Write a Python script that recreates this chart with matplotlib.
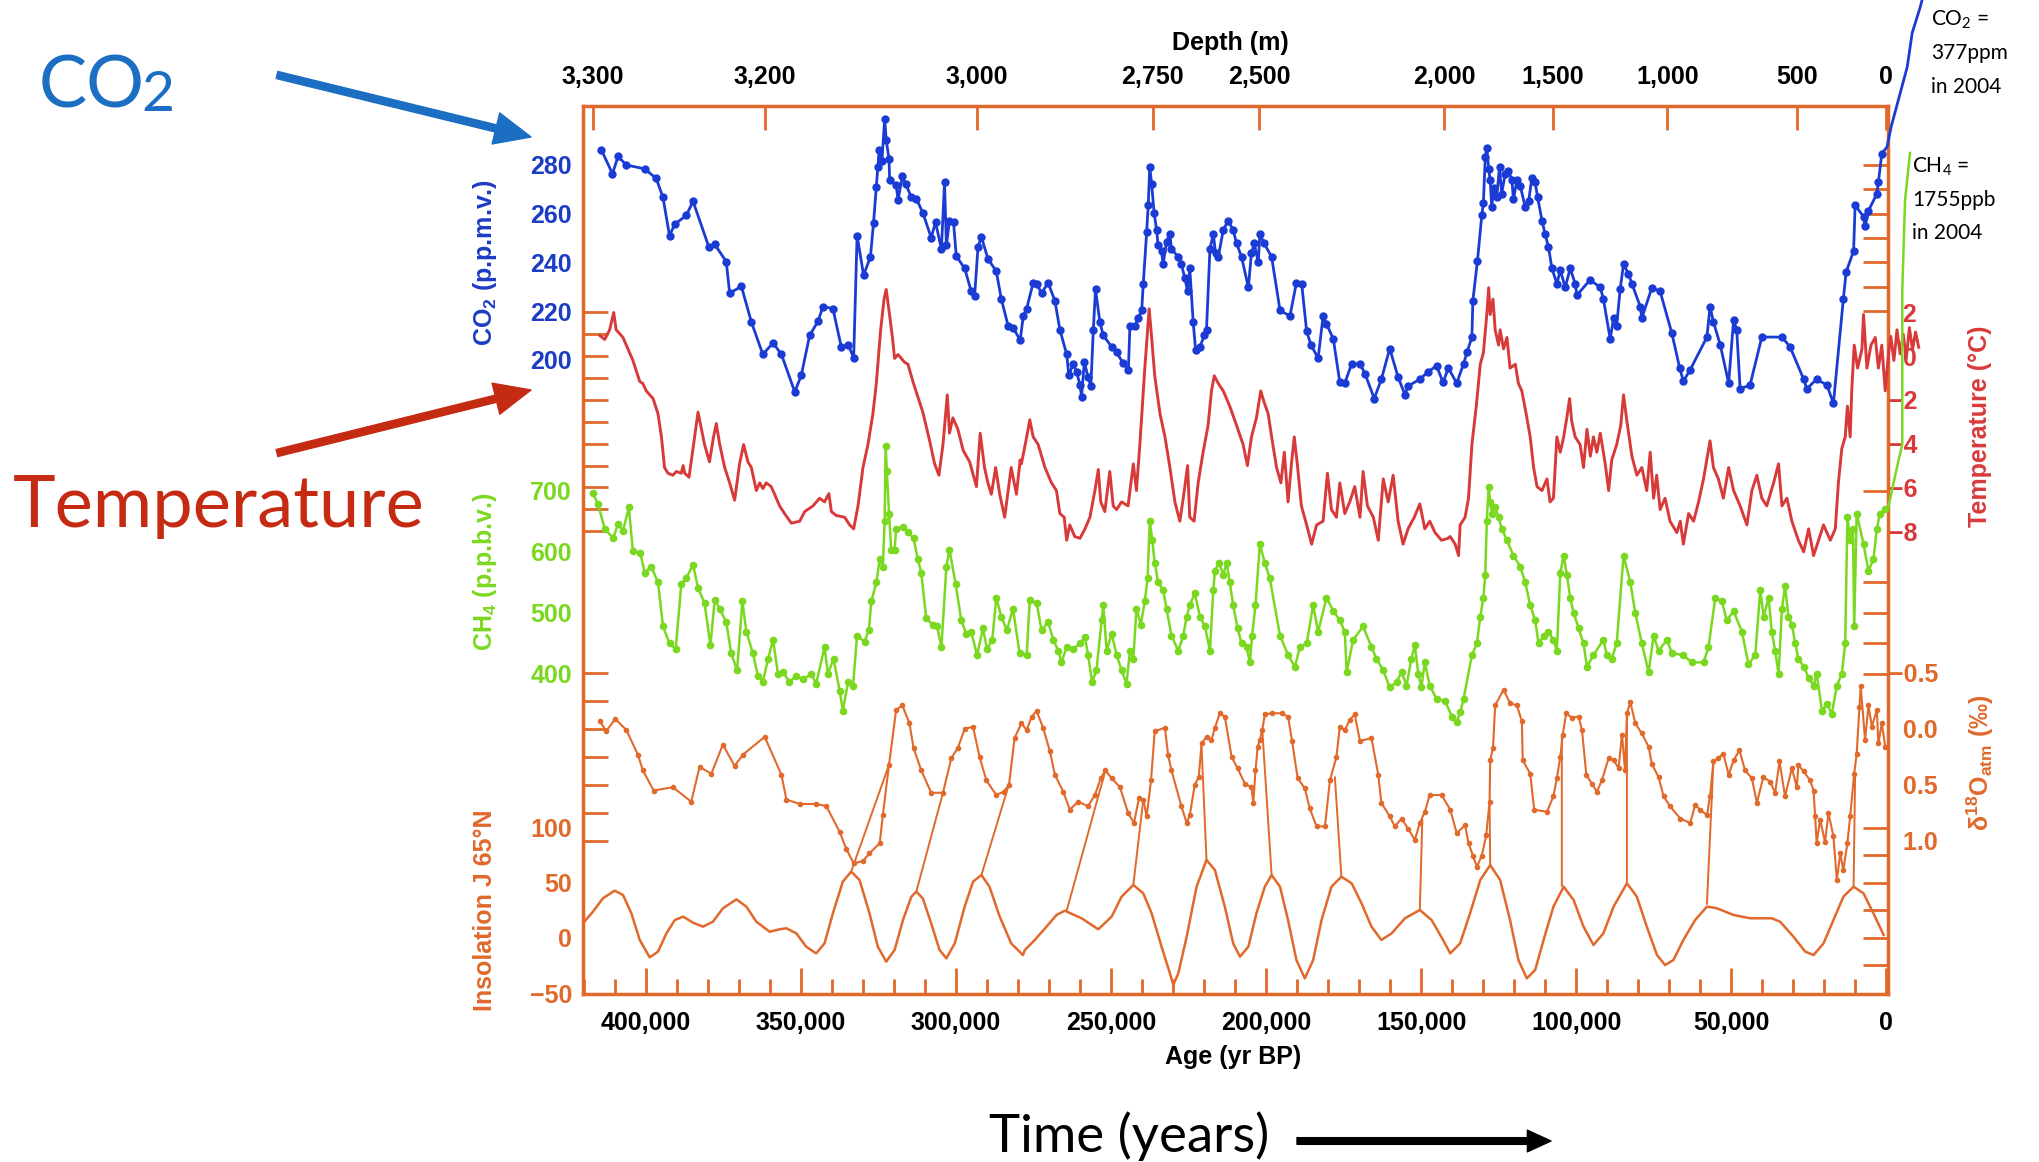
import numpy as np
import matplotlib
matplotlib.use("Agg")
import matplotlib.pyplot as plt
from matplotlib.patches import ConnectionPatch, FancyArrowPatch
from matplotlib.ticker import FuncFormatter

# Vostok ice core records, ages in kyr BP

co2_age = [414.4, 410.8, 409.0, 406.3, 400.4, 396.7, 394.5, 392.4, 390.7, 387.0,
           384.8, 379.7, 377.8, 374.1, 373.0, 369.2, 366.0, 362.3, 359.0, 356.3,
           352.0, 349.9, 347.2, 344.5, 342.9, 339.7, 337.0, 334.8, 333.0, 331.9,
           329.8, 327.6, 326.6, 325.7, 325.2, 324.8, 323.9, 323.0, 322.5, 321.6,
           321.4, 319.3, 318.7, 317.3, 316.2, 314.4, 312.8, 310.7, 308.0, 306.6,
           304.7, 303.7, 303.1, 302.1, 300.8, 299.9, 297.2, 295.1, 294.0, 292.9,
           291.8, 289.7, 287.0, 285.4, 283.2, 281.6, 279.3,
           278.3, 277.2, 275.1, 274.0, 272.4, 270.3, 268.1, 266.5, 264.3, 263.6,
           262.2, 261.1, 260.0, 259.5, 258.6, 257.4, 256.5, 255.7, 255.0, 253.6,
           252.5, 249.8, 248.2, 246.1, 244.4, 243.9, 242.3, 241.2, 240.1, 239.6,
           238.5, 238.0, 237.5, 236.9, 236.1, 235.3, 234.8, 233.7, 233.2, 232.1,
           231.0, 230.5, 228.3, 227.3, 226.2, 225.3, 224.6, 223.5, 222.7, 221.3,
           219.9, 219.2, 218.1, 217.0, 216.3, 215.4, 213.8, 212.2, 210.6, 209.5,
           207.9, 205.7, 204.7, 203.8, 202.5, 202.0, 200.6, 198.2, 195.5, 192.3,
           190.2, 188.5, 186.9, 185.5, 183.2, 181.6, 180.5, 178.3, 176.2, 174.6,
           172.4, 169.7, 168.1, 165.1, 162.8, 160.1, 157.4, 155.2, 154.2, 150.4,
           147.7, 145.0, 142.9, 141.2,
           138.5, 136.3, 135.2, 133.6, 133.3, 131.8, 130.4, 129.9, 129.3, 128.8,
           128.2, 127.7, 127.2, 126.6, 125.6, 124.7, 124.0, 122.9, 121.8, 120.7,
           120.2, 119.1, 118.0, 116.4, 115.3, 114.3, 113.2, 112.4, 111.0, 110.0,
           108.9, 107.8, 106.2, 105.1, 103.5, 101.9, 100.3, 99.7, 95.5, 92.2,
           91.2, 89.0, 87.9, 86.9, 85.8, 84.7, 83.1, 82.0, 79.3, 78.8,
           75.6, 72.9, 69.1, 66.6, 65.4, 63.2, 57.8, 56.8, 55.7, 53.5,
           50.8, 49.2, 48.2, 47.1, 43.9, 40.1, 33.6, 31.0, 26.6, 25.6,
           22.4, 19.1, 17.0, 13.8, 12.9, 10.5, 10.0, 7.3, 6.8, 5.7,
           3.0, 2.5, 1.4]
co2_ppm = [286.3, 276.4, 283.5, 280.0, 278.4, 274.5, 266.7, 251.0, 255.7, 259.3,
           265.1, 246.3, 247.4, 240.4, 227.4, 230.2, 215.6, 202.3, 207.0, 202.3,
           186.9, 193.7, 210.1, 215.9, 221.9, 221.1, 205.4, 206.2, 201.0, 251.0,
           234.8, 242.3, 256.1, 270.9, 279.2, 286.0, 281.6, 298.9, 290.2, 282.4,
           273.7, 271.9, 265.6, 275.3, 272.2, 266.7, 266.2, 260.4, 250.2, 256.5,
           245.5, 272.9, 247.0, 257.2, 256.5, 242.6, 237.6, 228.2, 226.3, 246.3,
           250.5, 241.5, 236.4, 225.1, 214.1, 213.3, 208.1,
           218.0, 221.1, 231.7, 231.3, 227.4, 231.7, 224.3, 212.5, 202.3, 193.7,
           198.4, 195.2, 189.7, 185.0, 199.2, 192.9, 189.3, 212.5, 229.0, 215.6,
           210.1, 205.4, 203.1, 198.7, 196.0, 214.1, 214.1, 217.2, 220.4, 231.3,
           252.5, 263.5, 279.2, 272.2, 260.4, 253.3, 247.0, 244.7, 239.2, 248.6,
           251.7, 245.5, 242.3, 239.2, 233.7, 228.2, 237.6, 215.6, 203.9, 205.4,
           210.1, 212.5, 245.5, 251.7, 243.9, 242.3, 253.3, 257.2, 253.3, 247.8,
           242.3, 229.8, 243.9, 247.8, 240.0, 251.7, 247.8, 242.3, 220.4, 218.0,
           231.7, 231.3, 211.7, 206.2, 200.7, 218.0, 214.9, 208.6, 190.8, 190.5,
           198.4, 198.4, 194.4, 184.2, 192.1, 204.7, 192.9, 185.8, 189.3, 192.1,
           195.2, 197.6, 190.8, 196.7,
           190.5, 198.4, 203.1, 209.4, 224.3, 240.8, 259.6, 264.3, 283.1, 287.1,
           278.4, 273.7, 262.7, 270.6, 266.7, 279.2, 268.2, 276.1, 277.7, 273.7,
           265.9, 273.7, 271.4, 262.7, 265.1, 274.5, 272.9, 266.7, 257.2, 251.7,
           246.3, 237.6, 231.3, 236.8, 229.8, 237.6, 231.3, 226.6, 232.9, 229.8,
           225.1, 208.6, 217.2, 214.1, 229.0, 239.2, 235.3, 231.3, 221.9, 217.2,
           229.5, 228.2, 210.9, 196.8, 191.3, 196.0, 209.4, 221.9, 215.6, 206.2,
           190.5, 216.4, 212.5, 188.2, 189.7, 209.4, 209.4, 205.4, 192.1, 188.2,
           192.1, 189.7, 182.2, 225.1, 236.1, 244.7, 263.5, 258.8, 254.9, 261.2,
           268.2, 272.9, 284.7]
# line running up to the 2004 value, outside the frame
co2_now_age = [1.4, -0.3, -1.6, -6.8, -8.4, -11.0, -11.6]
co2_now_ppm = [284.7, 287.4, 295.6, 320.2, 334.2, 344.8, 347.7]

temp_age = [414.9, 413.3, 411.7, 410.4, 409.6, 407.4, 404.2, 402.0, 401.0, 399.9,
            397.7, 396.1, 395.0, 394.0, 392.9, 391.3, 390.2, 388.6, 388.0, 387.5,
            386.1, 384.3, 383.2, 382.1, 381.1, 379.5, 378.2, 377.3, 376.2, 374.6,
            373.0, 371.4, 369.8, 368.5, 367.1, 366.0, 364.4, 363.3, 362.3, 361.2,
            359.6, 358.5, 356.9, 355.3, 353.1, 350.4, 348.8, 346.1, 344.0, 342.4,
            341.0, 340.2, 338.6, 335.9, 334.3, 333.0, 331.6, 330.0, 328.4, 326.8,
            325.7, 324.3, 323.2, 322.5, 321.6, 320.5, 319.8, 318.7, 316.6, 315.5,
            313.9, 312.3, 310.7, 308.5, 306.9, 305.5, 304.2, 302.8, 302.1, 301.0,
            299.4, 297.7, 295.6, 293.4, 292.2, 290.8, 289.7, 288.6, 287.2, 285.9,
            284.3, 282.2, 280.5, 279.3,
            278.9, 277.2, 276.2, 275.1, 273.5, 271.3, 269.2, 267.6, 266.5, 265.1,
            264.3, 263.3, 261.7, 260.0, 258.4, 256.8, 255.2, 254.1, 253.3, 252.0,
            250.4, 249.3, 248.2, 246.6, 244.5, 242.8, 241.8, 240.7, 239.1, 237.7,
            236.9, 235.9, 234.2, 232.6, 231.0, 229.4, 227.8, 226.7, 225.3, 224.6,
            223.2, 221.9, 220.3, 218.7, 217.6, 216.7, 215.4, 213.8, 211.7, 209.5,
            207.4, 206.0, 204.7, 203.1, 201.7, 200.6, 199.3, 198.2, 196.6, 195.2,
            194.1, 192.9, 191.8, 190.9, 189.8, 188.6, 186.9, 185.3, 183.7, 181.6,
            180.2, 178.9, 177.3, 176.2, 174.6, 173.0, 171.4, 169.7, 168.7, 167.3,
            165.4, 163.8, 162.2, 160.6, 159.0, 157.4, 155.8, 154.2, 152.2, 150.4,
            148.8, 147.2, 145.5, 143.4, 141.3,
            140.6, 139.0, 137.9, 137.4, 135.8, 134.7, 133.6, 132.2, 130.9, 129.9,
            128.8, 128.2, 127.7, 126.8, 126.1, 125.0, 124.5, 123.4, 122.3, 121.3,
            119.6, 118.6, 117.5, 116.1, 114.8, 113.7, 112.6, 111.0, 109.4, 108.4,
            107.3, 106.2, 105.1, 104.0, 103.0, 102.1, 101.4, 100.3, 98.7, 97.6,
            96.5, 95.4, 94.4, 93.3, 92.2, 90.6, 89.5, 88.5, 86.9, 85.6,
            84.7, 83.6, 82.0, 80.4, 78.8, 77.2, 76.1, 75.0, 74.0, 72.9,
            71.3, 69.7, 67.5, 66.4, 65.4, 63.7, 62.1, 60.5, 58.9, 56.8,
            55.7, 54.1, 52.5, 50.8, 49.2, 47.1, 44.9, 43.3, 41.7, 40.1,
            38.5, 36.3, 34.7, 33.6, 32.0, 30.4, 28.3, 26.6, 25.0, 23.4,
            21.8, 20.2, 18.0, 16.4, 15.4, 14.3, 13.2, 12.5, 11.6, 11.1,
            10.3, 9.2, 7.8, 7.3, 6.2, 4.9, 3.5, 2.5, 1.4, 0.3,
            -0.8, -1.5, -2.5, -3.5, -4.5, -5.5, -6.5, -7.5, -8.5, -9.5,
            -10.5]
temp_c = [0.94, 0.76, 1.20, 1.99, 1.20, 0.85, -0.20, -1.16, -1.25, -1.59,
          -1.94, -2.64, -3.69, -5.09, -5.35, -5.44, -5.27, -5.35, -5.00, -5.35,
          -5.53, -3.69, -2.56, -3.34, -4.04, -4.83, -3.69, -3.08, -4.04, -5.09,
          -5.79, -6.58, -4.92, -4.04, -4.83, -5.09, -6.14, -5.79, -6.05, -5.79,
          -5.96, -6.31, -6.84, -7.19, -7.63, -7.54, -7.10, -6.84, -6.49, -6.66,
          -6.28, -7.10, -7.28, -7.36, -7.71, -7.89, -6.84, -5.09, -4.04, -2.64,
          -1.25, 1.20, 2.60, 3.04, 2.08, 0.85, -0.11, 0.07, -0.28, -0.37,
          -1.16, -1.86, -2.56, -3.87, -4.92, -5.44, -4.04, -1.77, -3.52, -2.82,
          -3.34, -4.30, -4.83, -5.96, -3.52, -5.09, -5.79, -6.31, -5.09, -6.31,
          -7.36, -5.09, -6.31, -4.74,
          -4.92, -3.69, -2.91, -3.69, -4.04, -5.09, -5.79, -6.14, -7.19, -7.36,
          -8.41, -7.71, -8.24, -8.32, -7.89, -7.36, -6.14, -5.18, -6.66, -7.10,
          -5.27, -6.84, -7.01, -6.66, -6.84, -4.92, -6.14, -4.04, -0.55, 2.16,
          0.85, -0.90, -2.64, -3.69, -5.09, -6.66, -7.54, -6.49, -5.00, -7.36,
          -7.54, -5.79, -4.39, -3.17, -1.59, -0.90, -1.25, -1.59, -2.29, -3.17,
          -4.04, -5.00, -3.69, -2.82, -1.59, -2.12, -2.64, -3.69, -5.09, -5.79,
          -4.39, -6.66, -4.92, -3.69, -5.09, -6.84, -7.71, -8.59, -7.71, -7.54,
          -5.35, -7.01, -7.36, -5.79, -7.19, -6.66, -5.96, -7.36, -5.27, -6.84,
          -7.36, -8.41, -5.61, -6.66, -5.44, -7.54, -8.59, -7.89, -7.36, -6.75,
          -7.89, -7.54, -8.06, -8.41, -8.32,
          -8.24, -8.59, -9.11, -7.71, -7.36, -6.49, -4.04, -2.29, -0.37, 0.15,
          1.90, 3.12, 1.90, 2.60, 1.20, 0.50, 1.20, 0.33, 0.85, -0.55,
          -0.37, -1.25, -1.59, -2.64, -3.69, -5.09, -5.96, -6.14, -5.61, -6.66,
          -6.49, -3.69, -4.39, -3.69, -2.82, -1.94, -2.99, -3.69, -4.04, -5.09,
          -3.34, -4.57, -3.69, -4.39, -3.52, -4.92, -6.14, -4.74, -4.04, -3.17,
          -1.77, -2.99, -4.57, -5.44, -5.09, -6.14, -4.39, -6.49, -5.44, -7.01,
          -6.49, -7.54, -8.06, -7.54, -8.59, -7.19, -7.54, -6.66, -5.61, -3.87,
          -5.09, -5.61, -6.49, -5.09, -6.14, -6.84, -7.71, -6.14, -5.44, -6.49,
          -6.84, -5.79, -4.92, -6.84, -6.49, -7.54, -8.41, -8.94, -7.89, -9.11,
          -8.41, -7.71, -8.41, -7.89, -5.79, -4.22, -3.69, -2.29, -3.69, -1.59,
          0.50, -0.55, 0.33, 1.90, -0.55, 0.50, 0.85, -0.55, 0.50, -1.59,
          0.15, 0.9, -0.2, 1.2, 0.1, 1.0, -0.1, 1.3, 0.3, 1.1,
          0.4]

ch4_age = [417.1, 415.5, 413.3, 410.6, 409.0, 407.4, 405.5, 404.2, 401.8, 400.4,
           398.3, 396.1, 394.5, 392.4, 390.4, 388.6, 387.0, 384.8, 383.2, 381.1,
           379.2, 377.8, 376.2, 374.1, 372.5, 370.6, 368.9, 367.6, 365.5, 363.9,
           362.3, 360.6, 359.0, 357.4, 355.8, 353.7, 351.5, 349.3, 346.7, 345.1,
           342.4, 341.3, 339.5, 337.5, 336.5, 334.8, 333.2, 331.9, 329.5, 328.1,
           327.3, 325.7, 324.6, 323.6, 323.0, 322.7, 322.3, 321.6, 320.9, 319.8,
           319.3, 317.1, 315.5, 313.7, 312.3, 311.2, 309.6, 307.4, 306.1, 304.7,
           303.1, 302.1, 300.1, 298.3, 296.7, 295.1, 293.2, 291.3, 290.0, 288.3,
           287.0, 285.4, 283.6, 281.6, 279.5,
           277.2, 276.2, 274.0, 272.4, 270.3, 268.6, 267.0, 266.0, 264.3, 262.2,
           260.0, 258.4, 257.4, 256.1, 254.7, 253.0, 252.5, 251.4, 249.8, 248.2,
           246.6, 245.0, 243.9, 242.8, 241.8, 240.4, 239.1, 238.2, 237.5, 236.7,
           235.9, 234.8, 233.2, 232.1, 230.5, 228.3, 226.7, 225.6, 224.6, 223.0,
           221.3, 219.7, 218.1, 217.0, 216.5, 215.2, 213.8, 212.7, 211.7, 210.6,
           209.2, 207.9, 206.3, 205.2, 204.5, 203.4, 202.0, 200.4, 198.8, 195.5,
           192.9, 190.7, 189.1, 186.9, 184.8, 183.2, 180.5, 178.3, 176.2, 174.6,
           174.0, 171.9, 168.7, 166.0, 164.4, 162.2, 160.1, 157.9, 156.3, 154.7,
           153.1, 152.0, 150.9, 149.9, 148.8, 147.2, 145.0, 142.3, 140.0, 138.5,
           137.3,
           136.3, 133.6, 132.0, 130.9, 129.9, 129.3, 128.8, 128.2, 127.7, 127.2,
           126.1, 125.0, 124.0, 122.3, 120.2, 118.0, 116.4, 114.8, 113.2, 112.1,
           110.5, 108.9, 107.3, 106.2, 105.1, 104.0, 103.0, 101.9, 100.8, 99.2,
           97.6, 96.5, 94.4, 91.2, 90.1, 88.5, 86.9, 84.7, 82.5, 80.9,
           78.8, 76.6, 75.0, 73.4, 70.7, 69.1, 65.4, 62.7, 58.9, 57.3,
           55.1, 53.0, 51.4, 49.2, 46.5, 44.4, 42.2, 40.6, 39.5, 37.9,
           36.9, 35.8, 34.7, 33.6, 32.6, 31.5, 30.4, 29.3, 28.3, 26.6,
           25.0, 23.4, 22.4, 20.7, 19.1, 17.5, 15.9, 14.3, 13.2, 12.5,
           11.6, 10.7, 10.3, 9.5, 7.3, 5.7, 4.1, 3.0, 2.0, 0.4]
ch4_ppb = [696, 679, 638, 623, 645, 635, 673, 601, 598, 566,
           576, 550, 478, 450, 441, 547, 557, 579, 541, 516,
           447, 522, 507, 485, 434, 406, 519, 469, 434, 397,
           387, 425, 456, 400, 403, 387, 397, 391, 400, 384,
           444, 400, 425, 372, 340, 387, 381, 463, 453, 472,
           519, 550, 588, 576, 651, 773, 732, 663, 604, 604,
           638, 641, 632, 623, 588, 566, 491, 481, 478, 444,
           576, 604, 547, 488, 466, 469, 431, 475, 441, 456,
           525, 494, 472, 507, 434,
           431, 522, 516, 472, 485, 456, 438, 419, 444, 441,
           450, 460, 431, 387, 406, 488, 513, 438, 466, 431,
           406, 384, 438, 425, 507, 481, 519, 557, 651, 620,
           582, 550, 538, 507, 463, 438, 463, 494, 513, 532,
           494, 478, 438, 538, 569, 582, 563, 582, 550, 513,
           475, 450, 444, 419, 463, 513, 613, 582, 557, 463,
           431, 412, 444, 450, 513, 469, 525, 503, 488, 469,
           403, 456, 478, 444, 425, 406, 378, 387, 403, 381,
           425, 447, 400, 378, 419, 381, 359, 356, 330, 322,
           338,
           359, 431, 450, 494, 525, 563, 651, 707, 682, 663,
           673, 657, 638, 619, 594, 576, 550, 513, 488, 450,
           463, 469, 456, 438, 566, 594, 563, 525, 500, 475,
           450, 412, 431, 456, 431, 425, 450, 594, 550, 500,
           450, 403, 463, 438, 456, 434, 431, 419, 419, 444,
           525, 519, 488, 503, 469, 416, 431, 538, 494, 525,
           469, 438, 400, 507, 544, 494, 481, 450, 425, 412,
           394, 381, 400, 340, 350, 335, 381, 400, 450, 657,
           619, 638, 478, 663, 613, 569, 588, 638, 663, 670]
# line running up to the 2004 value, outside the frame
ch4_now_age = [0.4, -0.6, -1.9, -3.9, -5.2, -5.2, -6.1, -7.7]
ch4_now_ppb = [670, 670, 702, 748, 776, 1028, 1177, 1254]

d18o_age = [414.9, 412.8, 409.9, 406.3, 402.6, 401.0, 397.5, 391.3, 385.4, 382.7,
            378.9, 375.2, 371.4, 368.7, 361.7, 356.3, 354.7, 350.4, 345.1, 341.8,
            337.5, 335.4, 333.0, 330.0, 327.9, 324.6, 323.6, 321.6, 319.3, 317.3,
            315.0, 313.7, 311.2, 308.0, 304.2, 301.5, 299.4, 297.2, 294.5, 292.4,
            290.2, 287.0, 284.6, 282.9, 281.1, 278.9,
            277.2, 275.6, 274.0, 271.9, 269.7, 268.1, 265.4, 263.3, 260.6, 257.4,
            255.2, 253.3, 251.8, 249.8, 247.1, 244.5, 242.6, 241.0, 239.6, 238.5,
            237.1, 235.9, 232.6, 231.6, 230.5, 227.3, 225.6, 224.6, 223.0, 221.7,
            220.8, 219.2, 217.6, 216.5, 214.9, 213.3, 211.1, 209.2, 206.8, 204.7,
            204.1, 203.4, 202.7, 202.0, 201.2, 200.4, 198.2, 195.0, 192.9, 191.6,
            189.8, 187.5, 185.9, 183.7, 181.0, 179.4, 177.3, 176.2, 174.6, 173.0,
            171.4, 169.7, 166.0, 163.8, 162.8, 160.1, 158.5, 156.3, 154.2, 152.0,
            150.4, 148.8, 147.2, 143.4,
            140.6, 138.5, 135.8, 134.7, 133.3, 132.0, 130.4, 129.0, 127.9, 127.7,
            126.8, 126.1, 123.4, 121.3, 119.1, 117.5, 117.2, 114.8, 113.5, 109.4,
            107.3, 106.2, 105.1, 104.3, 103.2, 101.4, 99.2, 98.1, 96.7, 94.9,
            93.3, 91.7, 89.5, 87.9, 86.3, 85.2, 84.2, 83.6, 82.5, 80.9,
            78.8, 76.6, 75.6, 73.4, 71.8, 69.7, 66.4, 63.2, 61.6, 60.0,
            57.8, 56.8, 55.7, 54.1, 52.5, 50.8, 49.2, 47.3, 45.5, 43.3,
            41.7, 39.6, 37.4, 35.8, 34.4, 32.6, 30.4, 28.8, 28.3, 26.6,
            24.5, 23.4, 22.9, 22.4, 21.3, 19.7, 18.6, 17.0, 15.9, 14.8,
            13.8, 12.5, 11.6, 10.3, 9.5, 8.6, 8.2, 6.8, 5.7, 4.6,
            3.0, 2.5, 1.4, 0.3]
d18o = [-0.07, 0.02, -0.09, 0.01, 0.23, 0.37, 0.55, 0.52, 0.65, 0.34,
        0.40, 0.14, 0.33, 0.23, 0.07, 0.41, 0.63, 0.67, 0.67, 0.69,
        0.92, 1.07, 1.20, 1.18, 1.11, 1.02, 0.77, 0.32, -0.17, -0.21,
        -0.05, 0.17, 0.37, 0.57, 0.57, 0.26, 0.17, 0.00, -0.02, 0.25,
        0.46, 0.59, 0.56, 0.50, 0.08, -0.05,
        0.01, -0.11, -0.16, -0.01, 0.20, 0.41, 0.56, 0.72, 0.65, 0.69,
        0.59, 0.44, 0.37, 0.44, 0.52, 0.75, 0.84, 0.62, 0.63, 0.78,
        0.46, 0.02, -0.01, 0.23, 0.37, 0.69, 0.84, 0.77, 0.50, 0.43,
        0.13, 0.07, 0.10, -0.01, -0.14, -0.11, 0.25, 0.35, 0.49, 0.52,
        0.66, 0.37, 0.16, 0.10, 0.01, -0.13, -0.14, -0.14, -0.11, 0.11,
        0.44, 0.53, 0.71, 0.87, 0.87, 0.46, 0.25, -0.02, 0.01, -0.08,
        -0.13, 0.11, 0.08, 0.41, 0.66, 0.78, 0.87, 0.80, 0.89, 0.99,
        0.84, 0.74, 0.59, 0.59,
        0.72, 0.93, 0.86, 1.02, 1.13, 1.23, 1.13, 0.95, 0.65, 0.28,
        0.17, -0.21, -0.35, -0.23, -0.21, -0.07, 0.28, 0.40, 0.72, 0.74,
        0.60, 0.44, 0.25, 0.05, -0.14, -0.10, -0.11, 0.01, 0.41, 0.49,
        0.56, 0.46, 0.26, 0.28, 0.35, 0.05, 0.37, -0.14, -0.24, -0.05,
        0.04, 0.16, 0.31, 0.43, 0.60, 0.69, 0.80, 0.84, 0.68, 0.72,
        0.77, 0.60, 0.29, 0.26, 0.22, 0.41, 0.28, 0.19, 0.37, 0.44,
        0.66, 0.43, 0.47, 0.57, 0.29, 0.60, 0.35, 0.52, 0.32, 0.38,
        0.46, 0.55, 0.78, 1.02, 0.81, 1.01, 0.75, 0.96, 1.35, 1.11,
        1.26, 1.02, 0.78, 0.40, 0.22, -0.20, -0.38, 0.10, -0.21, -0.02,
        -0.17, 0.13, -0.05, 0.16]

insol_age = [420.3, 417.1, 413.9, 410.1, 407.4, 404.7, 402.0, 398.8, 396.1, 393.4,
             390.7, 388.0, 384.8, 381.6, 378.4, 375.2, 370.8, 367.6, 364.4, 360.1,
             356.9, 354.7, 351.5, 348.3, 345.1, 342.4, 339.7, 336.5, 333.8, 331.1,
             327.9, 325.2, 322.5, 319.8, 317.1, 314.4, 312.8, 310.7, 308.0, 305.3,
             303.1, 300.4, 297.2, 294.5, 291.8, 289.2, 285.9, 282.2, 278.4,
             277.8, 274.6, 270.8, 267.6, 264.9, 259.5, 254.1, 249.8, 246.6, 242.8,
             239.6, 236.9, 233.7, 231.0, 229.9, 228.3, 225.6, 222.4, 219.2, 216.5,
             213.3, 210.6, 208.4, 205.7, 203.1, 200.4, 198.2, 195.5, 192.9, 190.2,
             187.5, 184.8, 182.1, 178.9, 175.7, 172.4, 169.2, 166.0, 162.8, 159.5,
             155.2, 150.4, 146.6, 142.9,
             140.6, 137.4, 134.2, 130.9, 127.7, 124.5, 121.3, 118.6, 115.9, 113.2,
             110.5, 107.3, 104.0, 100.8, 97.6, 94.4, 91.2, 87.9, 83.6, 80.4,
             77.2, 73.9, 71.3, 68.6, 65.4, 61.6, 57.8, 54.6, 49.2, 43.9,
             36.9, 34.2, 29.9, 26.1, 23.4, 20.2, 17.0, 13.8, 10.5, 7.3,
             4.1, 0.8]
insol = [13.3, 23.9, 36.0, 43.0, 39.1, 22.4, -1.8, -17.6, -12.4, 4.2,
         16.3, 19.4, 13.9, 10.3, 14.8, 26.9, 35.1, 28.5, 14.8, 5.7,
         7.9, 8.8, 4.2, -7.9, -14.0, -4.9, 22.4, 51.2, 60.3, 52.7,
         22.4, -7.9, -21.5, -10.9, 16.3, 37.5, 42.1, 36.0, 13.3, -10.9,
         -18.5, -4.9, 28.5, 51.2, 57.2, 46.6, 19.4, -4.9, -15.5,
         -11.0, -1.8, 10.3, 20.9, 24.8, 17.9, 7.9, 19.4, 37.5, 48.2,
         40.6, 22.4, -7.9, -32.1, -42.7, -32.1, 1.2, 46.6, 70.9, 61.8,
         28.5, -4.9, -17.0, -7.9, 22.4, 46.6, 57.2, 46.6, 16.3, -20.0,
         -36.7, -20.0, 16.3, 46.6, 55.7, 49.7, 31.5, 10.3, -1.8, 4.2,
         17.9, 25.4, 16.3, -1.8,
         -14.0, -4.9, 22.4, 52.7, 66.3, 52.7, 16.3, -20.0, -36.7, -29.1,
         -1.8, 28.5, 46.6, 34.5, 10.3, -6.4, 4.2, 28.5, 49.7, 37.5,
         10.3, -15.5, -24.6, -20.0, -1.8, 16.3, 28.5, 27.0, 20.9, 17.9,
         17.9, 14.8, 1.2, -12.4, -15.5, -4.9, 16.3, 37.5, 46.6, 40.6,
         22.4, 2.7]

# tie lines: insolation maximum -> matching d18O point
tie_insol_age = [333.8, 312.8, 291.8, 264.3, 242.8, 219.2, 198.2, 175.7, 150.4, 127.7, 104.6, 83.6, 57.8, 10.5]
tie_insol = [60.3, 42.1, 57.2, 24.8, 48.2, 70.9, 57.2, 55.7, 25.4, 66.3, 47.2, 49.7, 30.9, 46.6]
tie_d18o_age = [321.6, 304.2, 283.2, 251.8, 239.6, 220.8, 201.2, 177.8, 149.6, 127.9, 104.6, 83.6, 55.7, 10.0]
tie_d18o = [0.32, 0.57, 0.52, 0.37, 0.63, 0.16, 0.01, 0.43, 0.81, 0.65, 0.05, -0.14, 0.29, 0.40]

# top axis: ice depth (m) and the age where each depth tick sits
depth_labels = ['3,300', '3,200', '3,000', '2,750', '2,500', '2,000', '1,500', '1,000', '500', '0']
depth_age = [417.1, 361.6, 293.2, 236.5, 202.3, 142.6, 107.4, 70.6, 28.7, 0.0]

blue = '#1a3bd4'
blue_txt = '#1b3cc4'
red = '#d83a3a'
green = '#7bd820'
orange = '#e0692b'
ann_blue = '#1b6ec2'
ann_red = '#c42b12'

plt.rcParams['font.family'] = ['Liberation Sans', 'DejaVu Sans']
plt.rcParams['font.weight'] = 'bold'
plt.rcParams['mathtext.default'] = 'regular'

W, H = 2040, 1162
fig = plt.figure(figsize=(W / 100, H / 100), dpi=100)
ax = fig.add_axes([583 / W, 168 / H, 1305 / W, 888 / H])


def yrs(a):
    return np.array(a) * 1000.0


def signed(fmt):
    def f(v, pos):
        s = fmt % abs(v)
        return ('\u2212' + s) if v < -1e-9 else ('\u2007' + s)
    return FuncFormatter(f)


def inner_ticks(parent, side, ticks):
    s = parent.secondary_yaxis(side)
    s.set_ticks(ticks)
    s.tick_params(direction='in', length=18, width=2, color=orange,
                  labelleft=False, labelright=False)
    for sp in s.spines.values():
        sp.set_visible(False)
    return s


def twin(lo, hi):
    t = ax.twinx()
    t.set_ylim(lo, hi)
    for sp in t.spines.values():
        sp.set_visible(False)
    return t


# ---- base axes: age + CO2 ----
ax.set_xlim(420300, -600)
ax.set_ylim(-60.1, 304.2)
for sp in ax.spines.values():
    sp.set_color(orange)
    sp.set_linewidth(2.5)
ax.set_xticks(np.arange(0, 400001, 50000))
ax.set_xticks(np.arange(0, 420001, 10000), minor=True)
ax.xaxis.set_major_formatter(FuncFormatter(lambda v, p: f'{int(round(v)):,}'))
ax.tick_params(axis='x', which='major', direction='in', length=19, width=2,
               color=orange, labelsize=18, pad=12)
ax.tick_params(axis='x', which='minor', direction='in', length=11, width=2, color=orange)
ax.set_yticks([200, 220, 240, 260, 280])
ax.tick_params(axis='y', length=0, pad=8, labelsize=18, labelcolor=blue_txt)
inner_ticks(ax, 'right', [220, 230, 240, 250, 260, 270, 280])

ax.plot(yrs(co2_age), co2_ppm, color=blue, lw=2, marker='o', ms=5, zorder=5)
ax.plot(yrs(co2_now_age), co2_now_ppm, color=blue, lw=2, clip_on=False, zorder=5)

top = ax.secondary_xaxis('top')
top.set_ticks(yrs(depth_age), labels=depth_labels)
top.tick_params(direction='in', length=17, width=2, color=orange, labelsize=18, pad=12)
for sp in top.spines.values():
    sp.set_visible(False)

# ---- temperature ----
ax_t = twin(-29.13, 11.42)
ax_t.set_yticks([-8, -6, -4, -2, 0, 2])
ax_t.yaxis.set_major_formatter(signed('%d'))
ax_t.tick_params(axis='y', length=0, pad=1, labelsize=18, labelcolor=red)
inner_ticks(ax_t, 'left', list(range(-8, 3)))
ax_t.plot(yrs(temp_age), temp_c, color=red, lw=2.1, clip_on=False)

# ---- CH4 ----
ax_ch4 = twin(-124.6, 1331)
ax_ch4.yaxis.tick_left()
ax_ch4.set_yticks([400, 500, 600, 700])
ax_ch4.tick_params(axis='y', length=0, pad=8, labelsize=18, labelcolor=green)
inner_ticks(ax_ch4, 'right', [400, 450, 500, 550, 700])
ax_ch4.plot(yrs(ch4_age), ch4_ppb, color=green, lw=1.8, marker='o', ms=4.5)
ax_ch4.plot(yrs(ch4_now_age), ch4_now_ppb, color=green, lw=1.8, clip_on=False)

# ---- d18O atm (inverted) ----
ax_d = twin(2.366, -5.56)
ax_d.set_yticks([-0.5, 0.0, 0.5, 1.0])
ax_d.yaxis.set_major_formatter(signed('%.1f'))
ax_d.tick_params(axis='y', length=0, pad=1, labelsize=18, labelcolor=orange)
inner_ticks(ax_d, 'left', [-0.5, -0.25, 0.0, 0.25, 0.5, 0.75, 1.0])
ax_d.plot(yrs(d18o_age), d18o, color=orange, lw=1.5, marker='o', ms=3)

# ---- insolation ----
ax_i = twin(-50.9, 756)
ax_i.yaxis.tick_left()
ax_i.set_yticks([-50, 0, 50, 100])
ax_i.tick_params(axis='y', length=0, pad=8, labelsize=18, labelcolor=orange)
inner_ticks(ax_i, 'right', [-25, 0, 25, 50, 75, 100])
ax_i.plot(yrs(insol_age), insol, color=orange, lw=1.8)

for a1, v1, a2, v2 in zip(tie_insol_age, tie_insol, tie_d18o_age, tie_d18o):
    con = ConnectionPatch(xyA=(a1 * 1000, v1), coordsA=ax_i.transData,
                          xyB=(a2 * 1000, v2), coordsB=ax_d.transData,
                          color=orange, lw=1.4)
    fig.add_artist(con)

# ---- axis titles ----
fig.text(1230 / W, 1 - 43 / H, 'Depth (m)', ha='center', va='center', fontsize=18)
fig.text(1233 / W, 1 - 1057 / H, 'Age (yr BP)', ha='center', va='center', fontsize=18)
fig.text(485 / W, 1 - 262 / H, 'CO$_2$ (p.p.m.v.)', rotation=90, ha='center', va='center',
         fontsize=18, color=blue_txt)
fig.text(485 / W, 1 - 572 / H, 'CH$_4$ (p.p.b.v.)', rotation=90, ha='center', va='center',
         fontsize=18, color=green)
fig.text(485 / W, 1 - 910 / H, 'Insolation J 65°N', rotation=90, ha='center', va='center',
         fontsize=18, color=orange)
fig.text(1980 / W, 1 - 426 / H, 'Temperature (°C)', rotation=90, ha='center', va='center',
         fontsize=18, color=red)
fig.text(1980 / W, 1 - 763 / H, 'δ$^{18}$O$_{atm}$ (‰)', rotation=90, ha='center', va='center',
         fontsize=18, color=orange)

# ---- 2004 notes ----
note = dict(fontsize=15, family=['Lato', 'DejaVu Sans'], fontweight='normal', ha='left', va='center')
fig.text(1931 / W, 1 - 20 / H, 'CO$_2$ =', **note)
fig.text(1931 / W, 1 - 53 / H, '377ppm', **note)
fig.text(1931 / W, 1 - 87 / H, 'in 2004', **note)
fig.text(1912 / W, 1 - 167 / H, 'CH$_4$ =', **note)
fig.text(1912 / W, 1 - 200 / H, '1755ppb', **note)
fig.text(1912 / W, 1 - 233 / H, 'in 2004', **note)

# ---- slide annotations ----
plain = dict(family=['Lato', 'DejaVu Sans'], fontweight='normal', va='baseline', ha='left')
fig.text(39 / W, 1 - 108 / H, 'CO', fontsize=52, color=ann_blue, **plain)
fig.text(141 / W, 1 - 111 / H, '2', fontsize=41, color=ann_blue, **plain)
fig.text(13 / W, 1 - 527 / H, 'Temperature', fontsize=52, color=ann_red, **plain)
fig.text(989 / W, 1 - 1152 / H, 'Time (years)', fontsize=38, color='black', **plain)


def arrow(p0, p1, color, tail, head_w, head_l):
    a = FancyArrowPatch((p0[0] / W, 1 - p0[1] / H), (p1[0] / W, 1 - p1[1] / H),
                        transform=fig.transFigure, mutation_scale=20, color=color,
                        shrinkA=0, shrinkB=0,
                        arrowstyle=f'simple,head_length={head_l},head_width={head_w},tail_width={tail}')
    fig.add_artist(a)


arrow((277, 75), (531, 137), ann_blue, 0.26, 1.15, 1.3)
arrow((277, 453), (531, 390), ann_red, 0.26, 1.15, 1.3)
arrow((1297, 1141), (1551, 1141), 'black', 0.24, 0.78, 0.85)

fig.savefig('out.png', dpi=100)
